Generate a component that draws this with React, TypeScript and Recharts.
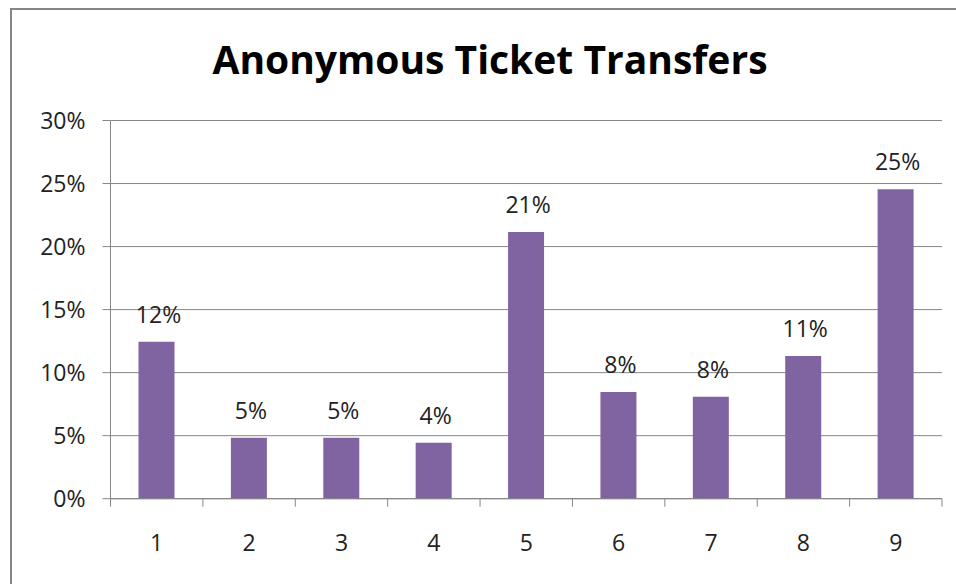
import { BarChart, Bar, XAxis, YAxis, CartesianGrid, LabelList } from 'recharts';

const categories = ['1', '2', '3', '4', '5', '6', '7', '8', '9'];
const transferShare = [0.1245, 0.0483, 0.0483, 0.0443, 0.2116, 0.0847, 0.0808, 0.1132, 0.2455];
const yTicks = [0, 0.05, 0.1, 0.15, 0.2, 0.25, 0.3];

const data = categories.map((c, i) => ({ name: c, value: transferShare[i] }));

const W = 956;
const H = 584;
const FONT = '"Open Sans", sans-serif';
const GRID = '#868686';
const TEXT = '#222';
const pct = (v: number) => `${Math.round(v * 100)}%`;

function XTick(props: any) {
  const { x, y, payload, index } = props;
  const half = payload?.offset ?? (942 - 110.5) / 18;
  const axisY = y - 8;
  return (
    <g>
      <line x1={x - half} x2={x - half} y1={axisY} y2={axisY + 8} stroke={GRID} />
      {index === categories.length - 1 && (
        <line x1={x + half} x2={x + half} y1={axisY} y2={axisY + 8} stroke={GRID} />
      )}
      <text x={x} y={axisY + 52} textAnchor="middle" fontFamily={FONT} fontSize={23} fill={TEXT}>
        {payload.value}
      </text>
    </g>
  );
}

function TopLabel(props: any) {
  const { x, y, width, value } = props;
  return (
    <text x={x + width / 2 + 2} y={y - 19} textAnchor="middle" fontFamily={FONT} fontSize={23} fill={TEXT}>
      {pct(value)}
    </text>
  );
}

export default function App() {
  return (
    <div style={{ position: 'absolute', left: 0, top: 0, width: W, height: H, overflow: 'hidden', background: '#fff' }}>
      <div style={{ position: 'absolute', left: 10, top: 8, width: W + 20, height: H + 20, border: `2px solid ${GRID}`, boxSizing: 'border-box' }} />
      <svg style={{ position: 'absolute', left: 0, top: 0 }} width={W} height={100}>
        <text x={490} y={74} textAnchor="middle" fontFamily={FONT} fontWeight={700} fontSize={39} fill="#000">
          Anonymous Ticket Transfers
        </text>
      </svg>
      <div style={{ position: 'absolute', left: 0, top: 0 }}>
        <BarChart width={W} height={H} data={data} margin={{ top: 120.5, right: 14, bottom: 55.3, left: 0 }}>
          <CartesianGrid vertical={false} stroke={GRID} />
          <XAxis
            dataKey="name"
            height={30}
            axisLine={{ stroke: GRID }}
            tickLine={false}
            tickSize={8}
            tickMargin={0}
            tick={<XTick />}
            interval={0}
          />
          <YAxis
            width={110.5}
            domain={[0, 0.3]}
            ticks={yTicks}
            tickFormatter={pct}
            axisLine={{ stroke: GRID }}
            tickLine={{ stroke: GRID }}
            tickSize={8}
            tickMargin={17}
            tick={{ fontFamily: FONT, fontSize: 23, fill: TEXT }}
          />
          <Bar dataKey="value" fill="#8064A2" barSize={36} isAnimationActive={false}>
            <LabelList dataKey="value" content={<TopLabel />} />
          </Bar>
        </BarChart>
      </div>
    </div>
  );
}
